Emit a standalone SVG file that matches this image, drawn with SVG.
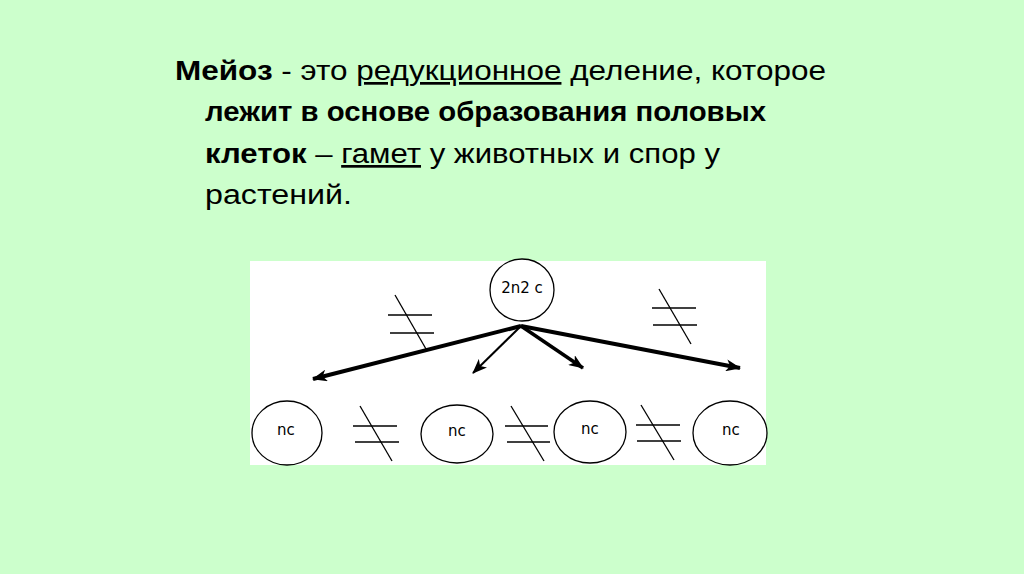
<svg xmlns="http://www.w3.org/2000/svg" width="1024" height="574" viewBox="0 0 1024 574">
<defs>
<style>
.t{font-family:"Liberation Sans",Arial,sans-serif;font-size:27px;fill:#000}
.b{font-weight:bold}
.u{text-decoration:underline}
.c{fill:#fff;stroke:#000;stroke-width:1.3}
.l{font-family:"DejaVu Sans",Verdana,sans-serif;font-size:15px;fill:#000;text-anchor:middle}
.ne{stroke:#000;stroke-width:1.3;fill:none}
.a{stroke:#000;fill:none}
</style>
<marker id="ah" markerUnits="userSpaceOnUse" markerWidth="16" markerHeight="12" refX="14" refY="6" orient="auto">
<path d="M0,0 L15,6 L0,12 L4,6 Z" fill="#000"/>
</marker>
</defs>
<rect width="1024" height="574" fill="#ccffcc"/>
<g id="text">
<text class="t" x="175" y="80" textLength="651" lengthAdjust="spacingAndGlyphs"><tspan class="b">Мейоз</tspan> - это <tspan class="u">редукционное</tspan> деление, которое</text>
<text class="t b" x="205" y="121" textLength="561" lengthAdjust="spacingAndGlyphs">лежит в основе образования половых</text>
<text class="t" x="205" y="163" textLength="515" lengthAdjust="spacingAndGlyphs"><tspan class="b">клеток</tspan> – <tspan class="u">гамет</tspan> у животных и спор у</text>
<text class="t" x="205" y="204" textLength="147" lengthAdjust="spacingAndGlyphs">растений.</text>
</g>
<rect x="250" y="261" width="516" height="204" fill="#fff"/>
<g id="connectors">
<line class="a" x1="521" y1="326" x2="313" y2="379" stroke-width="4" marker-end="url(#ah)"/>
<line class="a" x1="521" y1="326" x2="473" y2="373" stroke-width="2" marker-end="url(#ah)"/>
<line class="a" x1="521" y1="326" x2="583" y2="368" stroke-width="3.5" marker-end="url(#ah)"/>
<line class="a" x1="521" y1="326" x2="740" y2="368" stroke-width="4" marker-end="url(#ah)"/>
</g>
<g id="parent">
<ellipse class="c" cx="522" cy="290" rx="32" ry="31"/>
<text class="l" x="522" y="293">2n2 c</text>
</g>
<g id="cell1">
<ellipse class="c" cx="287" cy="433" rx="35" ry="32"/>
<text class="l" x="286" y="435">nc</text>
</g>
<g id="cell2">
<ellipse class="c" cx="457" cy="434" rx="36" ry="29"/>
<text class="l" x="457" y="436">nc</text>
</g>
<g id="cell3">
<ellipse class="c" cx="590" cy="432" rx="36" ry="31"/>
<text class="l" x="590" y="434">nc</text>
</g>
<g id="cell4">
<ellipse class="c" cx="730" cy="433" rx="37" ry="32"/>
<text class="l" x="731" y="435">nc</text>
</g>
<g id="ne1" class="ne"><line x1="388" y1="315" x2="432" y2="315"/><line x1="390" y1="333" x2="434" y2="333"/><line x1="395" y1="295" x2="426" y2="349"/></g>
<g id="ne2" class="ne"><line x1="652" y1="308" x2="696" y2="308"/><line x1="653" y1="325" x2="697" y2="325"/><line x1="659" y1="289" x2="691" y2="344"/></g>
<g id="ne3" class="ne"><line x1="353" y1="426" x2="397" y2="426"/><line x1="355" y1="442" x2="399" y2="442"/><line x1="360" y1="406" x2="392" y2="461"/></g>
<g id="ne4" class="ne"><line x1="505" y1="426" x2="548" y2="426"/><line x1="507" y1="442" x2="550" y2="442"/><line x1="511" y1="406" x2="544" y2="461"/></g>
<g id="ne5" class="ne"><line x1="636" y1="425" x2="680" y2="425"/><line x1="637" y1="441" x2="681" y2="441"/><line x1="641" y1="405" x2="674" y2="460"/></g>
</svg>
